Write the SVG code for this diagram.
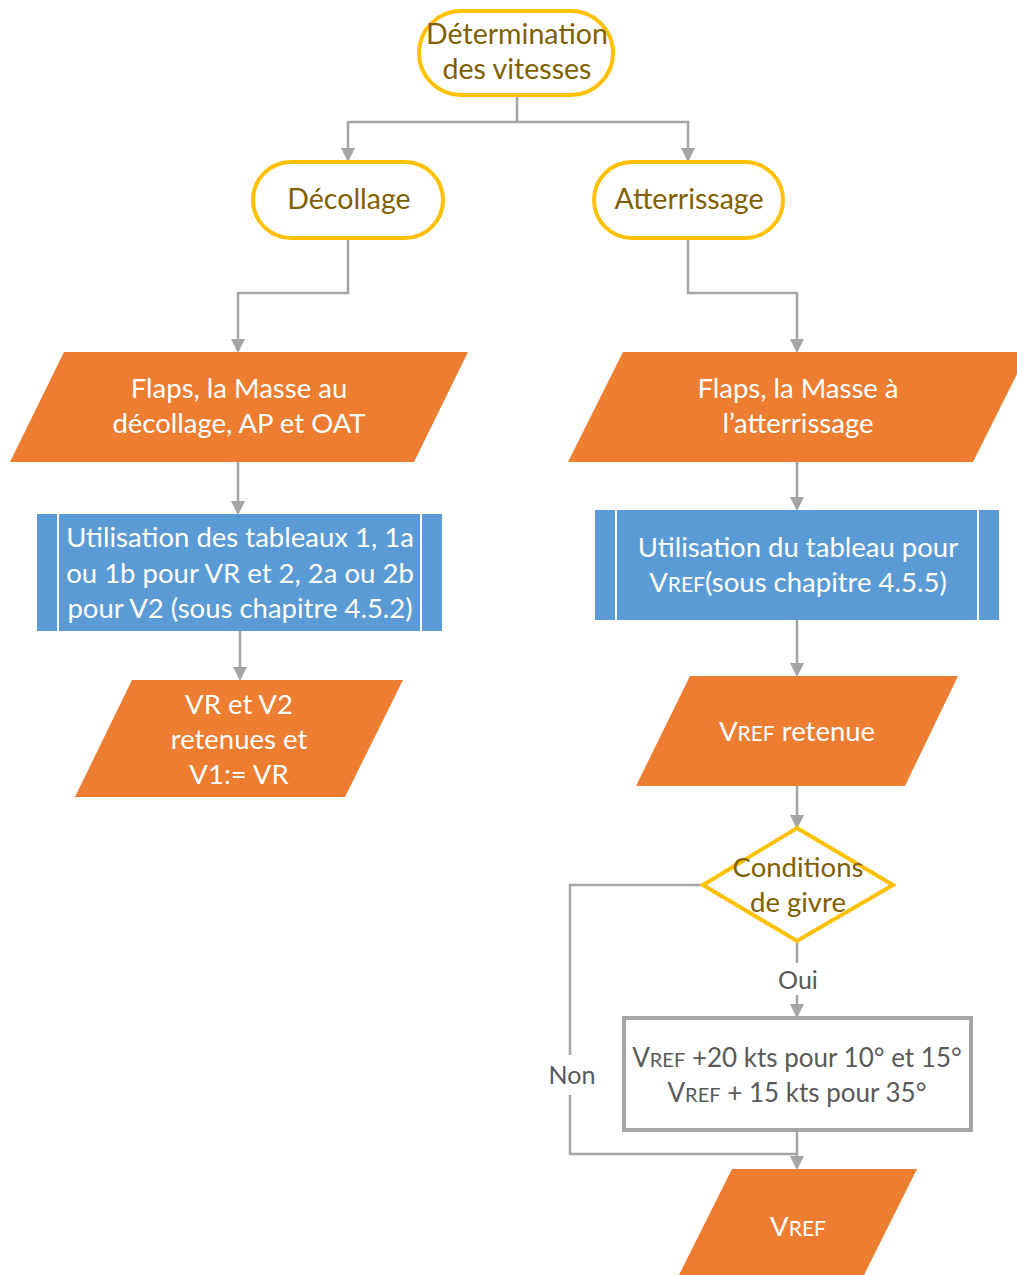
<svg xmlns="http://www.w3.org/2000/svg" width="1017" height="1275" viewBox="0 0 1017 1275">
<defs>
<marker id="arr" markerWidth="14" markerHeight="14" refX="12" refY="7" orient="auto" markerUnits="userSpaceOnUse">
<path d="M0,0 L14,7 L0,14 Z" fill="#A5A5A5"/>
</marker>
<style>
.term{fill:#FFFFFF;stroke:#FFC000;stroke-width:4}
.io{fill:#ED7D31}
.proc{fill:#5B9BD5}
.bar{stroke:#FFFFFF;stroke-width:2}
.box{fill:#FFFFFF;stroke:#A5A5A5;stroke-width:4}
.ln{fill:none;stroke:#A5A5A5;stroke-width:2.5}
text{font-family:Lato,"Open Sans","Liberation Sans",sans-serif;font-size:27.5px;text-anchor:middle}
.gold{fill:#7F6000}
.wh{fill:#FFFFFF}
.gr{fill:#595959;font-size:26px}
.lbl{fill:#595959;font-size:25px}
.sc{font-size:21px}
.gr .sc{font-size:20px}
.big{font-size:28.5px}
</style>
</defs>
<rect width="1017" height="1275" fill="#FFFFFF"/>
<g id="connectors">
<path class="ln" d="M517,96 V122 H348 V160" marker-end="url(#arr)"/>
<path class="ln" d="M517,122 H688 V160" marker-end="url(#arr)"/>
<path class="ln" d="M348,238 V293 H238 V351" marker-end="url(#arr)"/>
<path class="ln" d="M688,238 V293 H797 V351" marker-end="url(#arr)"/>
<path class="ln" d="M238,462 V513" marker-end="url(#arr)"/>
<path class="ln" d="M797,462 V509" marker-end="url(#arr)"/>
<path class="ln" d="M240,631 V679" marker-end="url(#arr)"/>
<path class="ln" d="M797,620 V675" marker-end="url(#arr)"/>
<path class="ln" d="M797,786 V827" marker-end="url(#arr)"/>
<path class="ln" d="M797,941 V963"/>
<path class="ln" d="M797,995 V1016" marker-end="url(#arr)"/>
<path class="ln" d="M703,885 H570 V1055"/>
<path class="ln" d="M570,1095 V1154 H797"/>
<path class="ln" d="M797,1130 V1168" marker-end="url(#arr)"/>
<text class="lbl" x="798" y="989">Oui</text>
<text class="lbl" x="572" y="1084">Non</text>
</g>
<g id="n-start">
<rect class="term" x="419" y="11" width="194" height="84" rx="42"/>
<text class="gold big" x="517" y="44">Détermination</text>
<text class="gold big" x="517" y="79">des vitesses</text>
</g>
<g id="n-decollage">
<rect class="term" x="253" y="162" width="190" height="76" rx="38"/>
<text class="gold big" x="349" y="209">Décollage</text>
</g>
<g id="n-atterrissage">
<rect class="term" x="594" y="162" width="189" height="76" rx="38"/>
<text class="gold big" x="689" y="209">Atterrissage</text>
</g>
<g id="n-input-dec">
<polygon class="io" points="64,352 468,352 414,462 10,462"/>
<text class="wh" x="239" y="398">Flaps, la Masse au</text>
<text class="wh" x="239" y="433">décollage, AP et OAT</text>
</g>
<g id="n-input-att">
<polygon class="io" points="623,352 1028,352 973,462 568,462"/>
<text class="wh" x="798" y="398">Flaps, la Masse à</text>
<text class="wh" x="798" y="433">l’atterrissage</text>
</g>
<g id="n-proc-dec">
<rect class="proc" x="37" y="514" width="405" height="117"/>
<line class="bar" x1="58" y1="514" x2="58" y2="631"/>
<line class="bar" x1="421" y1="514" x2="421" y2="631"/>
<text class="wh" x="240" y="547">Utilisation des tableaux 1, 1a</text>
<text class="wh" x="240" y="583">ou 1b pour VR et 2, 2a ou 2b</text>
<text class="wh" x="240" y="618">pour V2 (sous chapitre 4.5.2)</text>
</g>
<g id="n-proc-att">
<rect class="proc" x="595" y="510" width="404" height="110"/>
<line class="bar" x1="616" y1="510" x2="616" y2="620"/>
<line class="bar" x1="978" y1="510" x2="978" y2="620"/>
<text class="wh" x="798" y="557">Utilisation du tableau pour</text>
<text class="wh" x="798" y="592">V<tspan class="sc">REF</tspan>(sous chapitre 4.5.5)</text>
</g>
<g id="n-out-dec">
<polygon class="io" points="132,680 403,680 345,797 75,797"/>
<text class="wh" x="239" y="714">VR et V2</text>
<text class="wh" x="239" y="749">retenues et</text>
<text class="wh" x="239" y="784">V1:= VR</text>
</g>
<g id="n-out-att">
<polygon class="io" points="690,676 958,676 905,786 636,786"/>
<text class="wh" x="797" y="741">V<tspan class="sc">REF</tspan> retenue</text>
</g>
<g id="n-decision">
<polygon class="term" points="797,828 893,885 797,941 703,885"/>
<text class="gold" x="798" y="877">Conditions</text>
<text class="gold" x="798" y="912">de givre</text>
</g>
<g id="n-correction">
<rect class="box" x="624" y="1018" width="347" height="112"/>
<text class="gr" x="797" y="1067">V<tspan class="sc">REF</tspan> +20 kts pour 10° et 15°</text>
<text class="gr" x="797" y="1102">V<tspan class="sc">REF</tspan> + 15 kts pour 35°</text>
</g>
<g id="n-final">
<polygon class="io" points="732,1169 917,1169 864,1275 679,1275"/>
<text class="wh" x="798" y="1236">V<tspan class="sc">REF</tspan></text>
</g>
</svg>
